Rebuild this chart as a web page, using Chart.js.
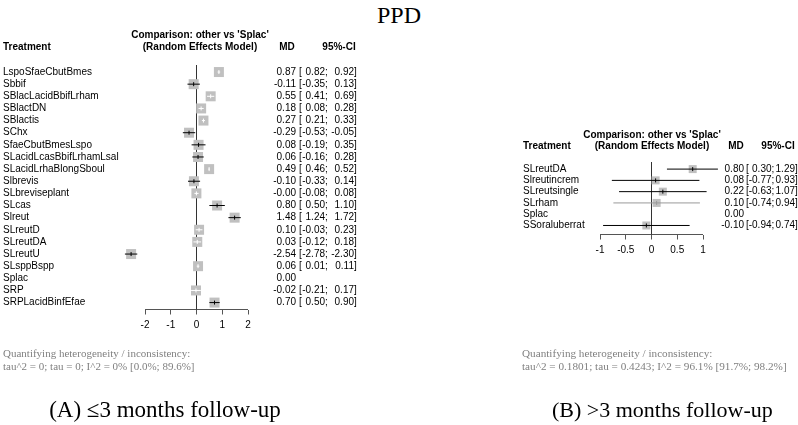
<!DOCTYPE html>
<html>
<head>
<meta charset="utf-8">
<script src="https://cdn.jsdelivr.net/npm/chart.js@4.4.0/dist/chart.umd.min.js"></script>
<style>
  body { margin: 0; background: #fff; width: 798px; height: 425px; position: relative; overflow: hidden;
         font-family: "Liberation Serif", "Times New Roman", serif; }
  canvas { position: absolute; left: 0; top: 0; }
  .t { position: absolute; white-space: nowrap; line-height: 1; }
  .het { color: #808080; font-size: 11px; line-height: 13px; }
</style>
</head>
<body>
<div class="t" style="left:0;width:798px;text-align:center;top:3px;font-size:24px">PPD</div>
<canvas id="chartA" width="798" height="425"></canvas>
<canvas id="chartB" width="798" height="425"></canvas>
<div class="t het" style="left:3px;top:347px">Quantifying heterogeneity / inconsistency:<br>tau^2 = 0; tau = 0; I^2 = 0% [0.0%; 89.6%]</div>
<div class="t het" style="left:522px;top:347px;font-size:11.2px">Quantifying heterogeneity / inconsistency:<br>tau^2 = 0.1801; tau = 0.4243; I^2 = 96.1% [91.7%; 98.2%]</div>
<div class="t" style="left:0;width:330px;text-align:center;top:398px;font-size:23px">(A) ≤3 months follow-up</div>
<div class="t" style="left:552px;width:200px;text-align:center;top:399px;font-size:22px">(B) &gt;3 months follow-up</div>

<script>
// (A) <=3 months
const treatmentsA = ['LspoSfaeCbutBmes', 'Sbbif', 'SBlacLacidBbifLrham', 'SBlactDN', 'SBlactis', 'SChx',
  'SfaeCbutBmesLspo', 'SLacidLcasBbifLrhamLsal', 'SLacidLrhaBlongSboul', 'Slbrevis', 'SLbreviseplant',
  'SLcas', 'Slreut', 'SLreutD', 'SLreutDA', 'SLreutU', 'SLsppBspp', 'Splac', 'SRP', 'SRPLacidBinfEfae'];
const mdA = [0.87, -0.11, 0.55, 0.18, 0.27, -0.29, 0.08, 0.06, 0.49, -0.10, -0.004, 0.80, 1.48, 0.10, 0.03, -2.54, 0.06, 0.00, -0.02, 0.70];
const loA = [0.82, -0.35, 0.41, 0.08, 0.21, -0.53, -0.19, -0.16, 0.46, -0.33, -0.08, 0.50, 1.24, -0.03, -0.12, -2.78, 0.01, null, -0.21, 0.50];
const hiA = [0.92, 0.13, 0.69, 0.28, 0.33, -0.05, 0.35, 0.28, 0.52, 0.14, 0.08, 1.10, 1.72, 0.23, 0.18, -2.30, 0.11, null, 0.17, 0.90];
const ticksA = [-2, -1, 0, 1, 2];

// (B) >3 months
const treatmentsB = ['SLreutDA', 'Slreutincrem', 'SLreutsingle', 'SLrham', 'Splac', 'SSoraluberrat'];
const mdB = [0.80, 0.08, 0.22, 0.10, 0.00, -0.10];
const loB = [0.30, -0.77, -0.63, -0.74, null, -0.94];
const hiB = [1.29, 0.93, 1.07, 0.94, null, 0.74];
const ticksB = [-1, -0.5, 0, 0.5, 1];

Chart.defaults.font.family = '"Liberation Sans", Arial, sans-serif';
Chart.defaults.font.size = 10;
Chart.defaults.color = '#000';

const W = 798, H = 425, AXIS_H = 30;

function forest(id, names, md, lo, hi, ticks, s) {
  const rows = names.map((_, i) => i);
  const shown = rows.filter(i => lo[i] !== null);
  const t0 = ticks[0], t1 = ticks[ticks.length - 1];

  // CI shorter than the box -> drawn white inside it
  const lineCol = (chart, i) => {
    const x = chart.scales.x;
    const w = Math.abs(x.getPixelForValue(hi[i]) - x.getPixelForValue(lo[i]));
    if (w < s.box) return '#fff';
    return (s.lineColors && s.lineColors[i]) || '#000';
  };

  const datasets = [];
  // reference line at 0
  datasets.push({
    data: [{ x: 0, y: s.yMin }, { x: 0, y: s.yMax }],
    showLine: true, borderColor: '#333', borderWidth: 1, pointRadius: 0, order: 5
  });
  // x axis line, only between first and last tick
  datasets.push({
    data: [{ x: t0, y: s.yMax }, { x: t1, y: s.yMax }],
    showLine: true, borderColor: '#555', borderWidth: 1, pointRadius: 0, clip: false, order: 6
  });
  datasets.push({
    data: shown.map(i => ({ x: md[i], y: i })),
    pointStyle: 'rect', pointRadius: s.box / Math.SQRT2, backgroundColor: '#c0c0c0',
    borderWidth: 0, pointBorderWidth: 0, clip: false, order: 4
  });
  shown.forEach(i => {
    datasets.push({
      data: [{ x: lo[i], y: i }, { x: hi[i], y: i }],
      showLine: true, borderWidth: 1, pointRadius: 0, clip: false, order: 2,
      borderColor: ctx => lineCol(ctx.chart, i)
    });
  });
  datasets.push({
    data: shown.map(i => ({ x: md[i], y: i, row: i })),
    pointStyle: 'line', rotation: 90, pointRadius: 2, pointBorderWidth: 1, clip: false, order: 1,
    pointBorderColor: ctx => ctx.raw ? lineCol(ctx.chart, ctx.raw.row) : '#000'
  });

  const table = {
    id: 'table' + id,
    afterDraw(chart) {
      const c = chart.ctx, y = chart.scales.y;
      c.save();
      c.fillStyle = '#000';
      c.textBaseline = 'middle';
      c.font = 'bold 10px "Liberation Sans", Arial, sans-serif';
      c.textAlign = 'center';
      c.fillText("Comparison: other vs 'Splac'", s.headX, s.headY1);
      c.fillText('(Random Effects Model)', s.headX, s.headY2);
      c.fillText('MD', s.mdHead, s.headY2);
      c.fillText('95%-CI', s.ciHead, s.headY2);
      c.textAlign = 'left';
      c.fillText('Treatment', s.left, s.headY2);
      c.font = '10px "Liberation Sans", Arial, sans-serif';
      rows.forEach(i => {
        const py = y.getPixelForValue(i);
        c.textAlign = 'right';
        c.fillText(md[i].toFixed(2), s.mdRight, py);
        if (lo[i] === null) return;
        c.fillText(lo[i].toFixed(2), s.loRight, py);
        c.fillText(hi[i].toFixed(2), s.hiRight, py);
        c.textAlign = 'left';
        c.fillText('[', s.ciOpen, py);
        c.fillText(';', s.loRight, py);
        c.fillText(']', s.hiRight, py);
      });
      c.restore();
    }
  };

  return new Chart(document.getElementById(id), {
    type: 'scatter',
    data: { datasets },
    plugins: [table],
    options: {
      responsive: false,
      animation: false,
      events: [],
      layout: { padding: { left: s.left, right: W - s.right, top: s.top, bottom: H - s.bottom - AXIS_H } },
      plugins: { legend: { display: false }, tooltip: { enabled: false } },
      scales: {
        x: {
          type: 'linear', min: s.xMin, max: t1,
          afterBuildTicks: sc => { sc.ticks = ticks.map(v => ({ value: v })); },
          afterFit: sc => { sc.height = AXIS_H; },
          ticks: { autoSkip: false, maxRotation: 0, padding: 5, color: '#000', callback: v => String(v) },
          grid: { drawOnChartArea: false, drawTicks: true, tickLength: 5, color: '#555' },
          border: { display: false }
        },
        y: {
          type: 'linear', reverse: true, min: s.yMin, max: s.yMax,
          afterBuildTicks: sc => { sc.ticks = rows.map(v => ({ value: v })); },
          afterFit: sc => { sc.width = s.axisLeft - s.left; },
          ticks: { autoSkip: false, crossAlign: 'far', padding: 0, color: '#000', callback: v => names[v] },
          grid: { display: false },
          border: { display: false }
        }
      }
    }
  });
}

forest('chartA', treatmentsA, mdA, loA, hiA, ticksA, {
  left: 3, axisLeft: 119.25, xMin: -3, right: 248, top: 65, bottom: 309.5,
  yMin: -0.58, yMax: 19.57, box: 10,
  headX: 200, headY1: 35, headY2: 47, mdHead: 287, ciHead: 339,
  mdRight: 296, ciOpen: 299, loRight: 325, hiRight: 354
});

forest('chartB', treatmentsB, mdB, loB, hiB, ticksB, {
  left: 523, axisLeft: 600, xMin: -1, right: 703, top: 162, bottom: 234.5,
  yMin: -0.63, yMax: 5.8, box: 8,
  lineColors: [null, null, null, '#999', null, null],
  headX: 652, headY1: 135, headY2: 146, mdHead: 736, ciHead: 778,
  mdRight: 744, ciOpen: 746, loRight: 771.5, hiRight: 795
});
</script>
</body>
</html>
